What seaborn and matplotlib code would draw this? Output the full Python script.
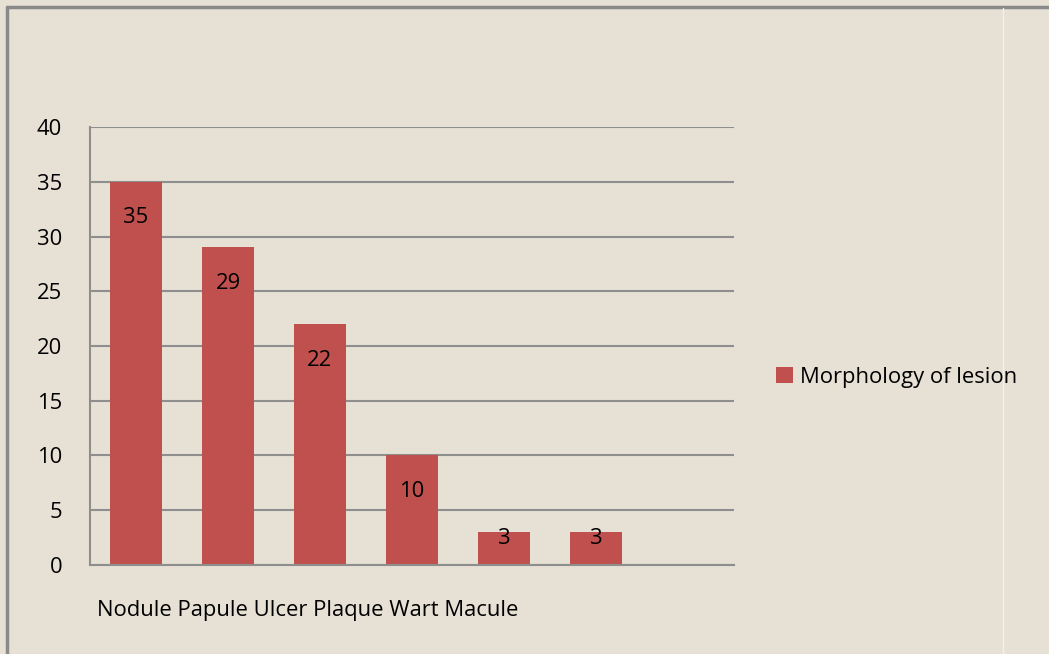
import matplotlib
matplotlib.use("Agg")
import matplotlib.pyplot as plt
import seaborn as sns
import pandas as pd
from matplotlib.lines import Line2D
from matplotlib.patches import Patch

# data
categories = ["Nodule", "Papule", "Ulcer", "Plaque", "Wart", "Macule"]
counts = [35, 29, 22, 10, 3, 3]
series_name = "Morphology of lesion"
yticks = [0, 5, 10, 15, 20, 25, 30, 35, 40]

df = pd.DataFrame({"Morphology": categories, "Count": counts})

bg = "#E6E0D5"
bar_color = "#C0504D"
grid_color = "#8E8E8E"
fs = 15.8

sns.set_theme(style="white")
plt.rcParams["font.family"] = ["Open Sans", "DejaVu Sans"]

fig = plt.figure(figsize=(10.49, 6.54), dpi=100, facecolor=bg)
ax = fig.add_axes([0.0858, 0.1361, 0.6139, 0.6697])
ax.set_facecolor(bg)

sns.barplot(data=df, x="Morphology", y="Count", color=bar_color,
            width=0.57, saturation=1, linewidth=0, ax=ax)

# data labels inside the bar ends
for i, v in enumerate(counts):
    ax.text(i, v - 3.3 if v > 5 else v - 0.6, str(v), ha="center", va="center",
            fontsize=fs, color="black")

ax.set_xlim(-0.5, 6.5)
ax.set_ylim(0, 40)
ax.set_yticks(yticks)
ax.tick_params(axis="y", length=0, pad=20, labelsize=fs, colors="black")
ax.set_xticks([])
ax.set_xlabel("")
ax.set_ylabel("")
ax.yaxis.grid(True, color=grid_color, linewidth=1.5)
ax.set_axisbelow(True)

for side in ["top", "right"]:
    ax.spines[side].set_visible(False)
for side in ["left", "bottom"]:
    ax.spines[side].set_color(grid_color)
    ax.spines[side].set_linewidth(1.5)

# category labels run together as one line under the axis
fig.text(97 / 1049, 1 - 616 / 654, " ".join(categories), ha="left",
         va="baseline", fontsize=fs, color="black")

handles = [Patch(facecolor=bar_color, edgecolor="none", label=series_name)]
fig.legend(handles=handles, loc="center left", frameon=False,
           bbox_to_anchor=(0.721, 1 - 377 / 654), fontsize=fs, labelcolor="black",
           handlelength=0.75, handleheight=0.75, handletextpad=0.35)

# outer frame of the chart area
fig.add_artist(Line2D([7 / 1049, 7 / 1049], [0, 1 - 7 / 654], color="#8A8A8A", linewidth=2.5))
fig.add_artist(Line2D([7 / 1049, 1], [1 - 7 / 654, 1 - 7 / 654], color="#8A8A8A", linewidth=2.5))
fig.add_artist(Line2D([1003 / 1049, 1003 / 1049], [0, 1 - 8 / 654], color="#F4F1EC", linewidth=1))

fig.savefig("out.png", dpi=100, facecolor=bg)
